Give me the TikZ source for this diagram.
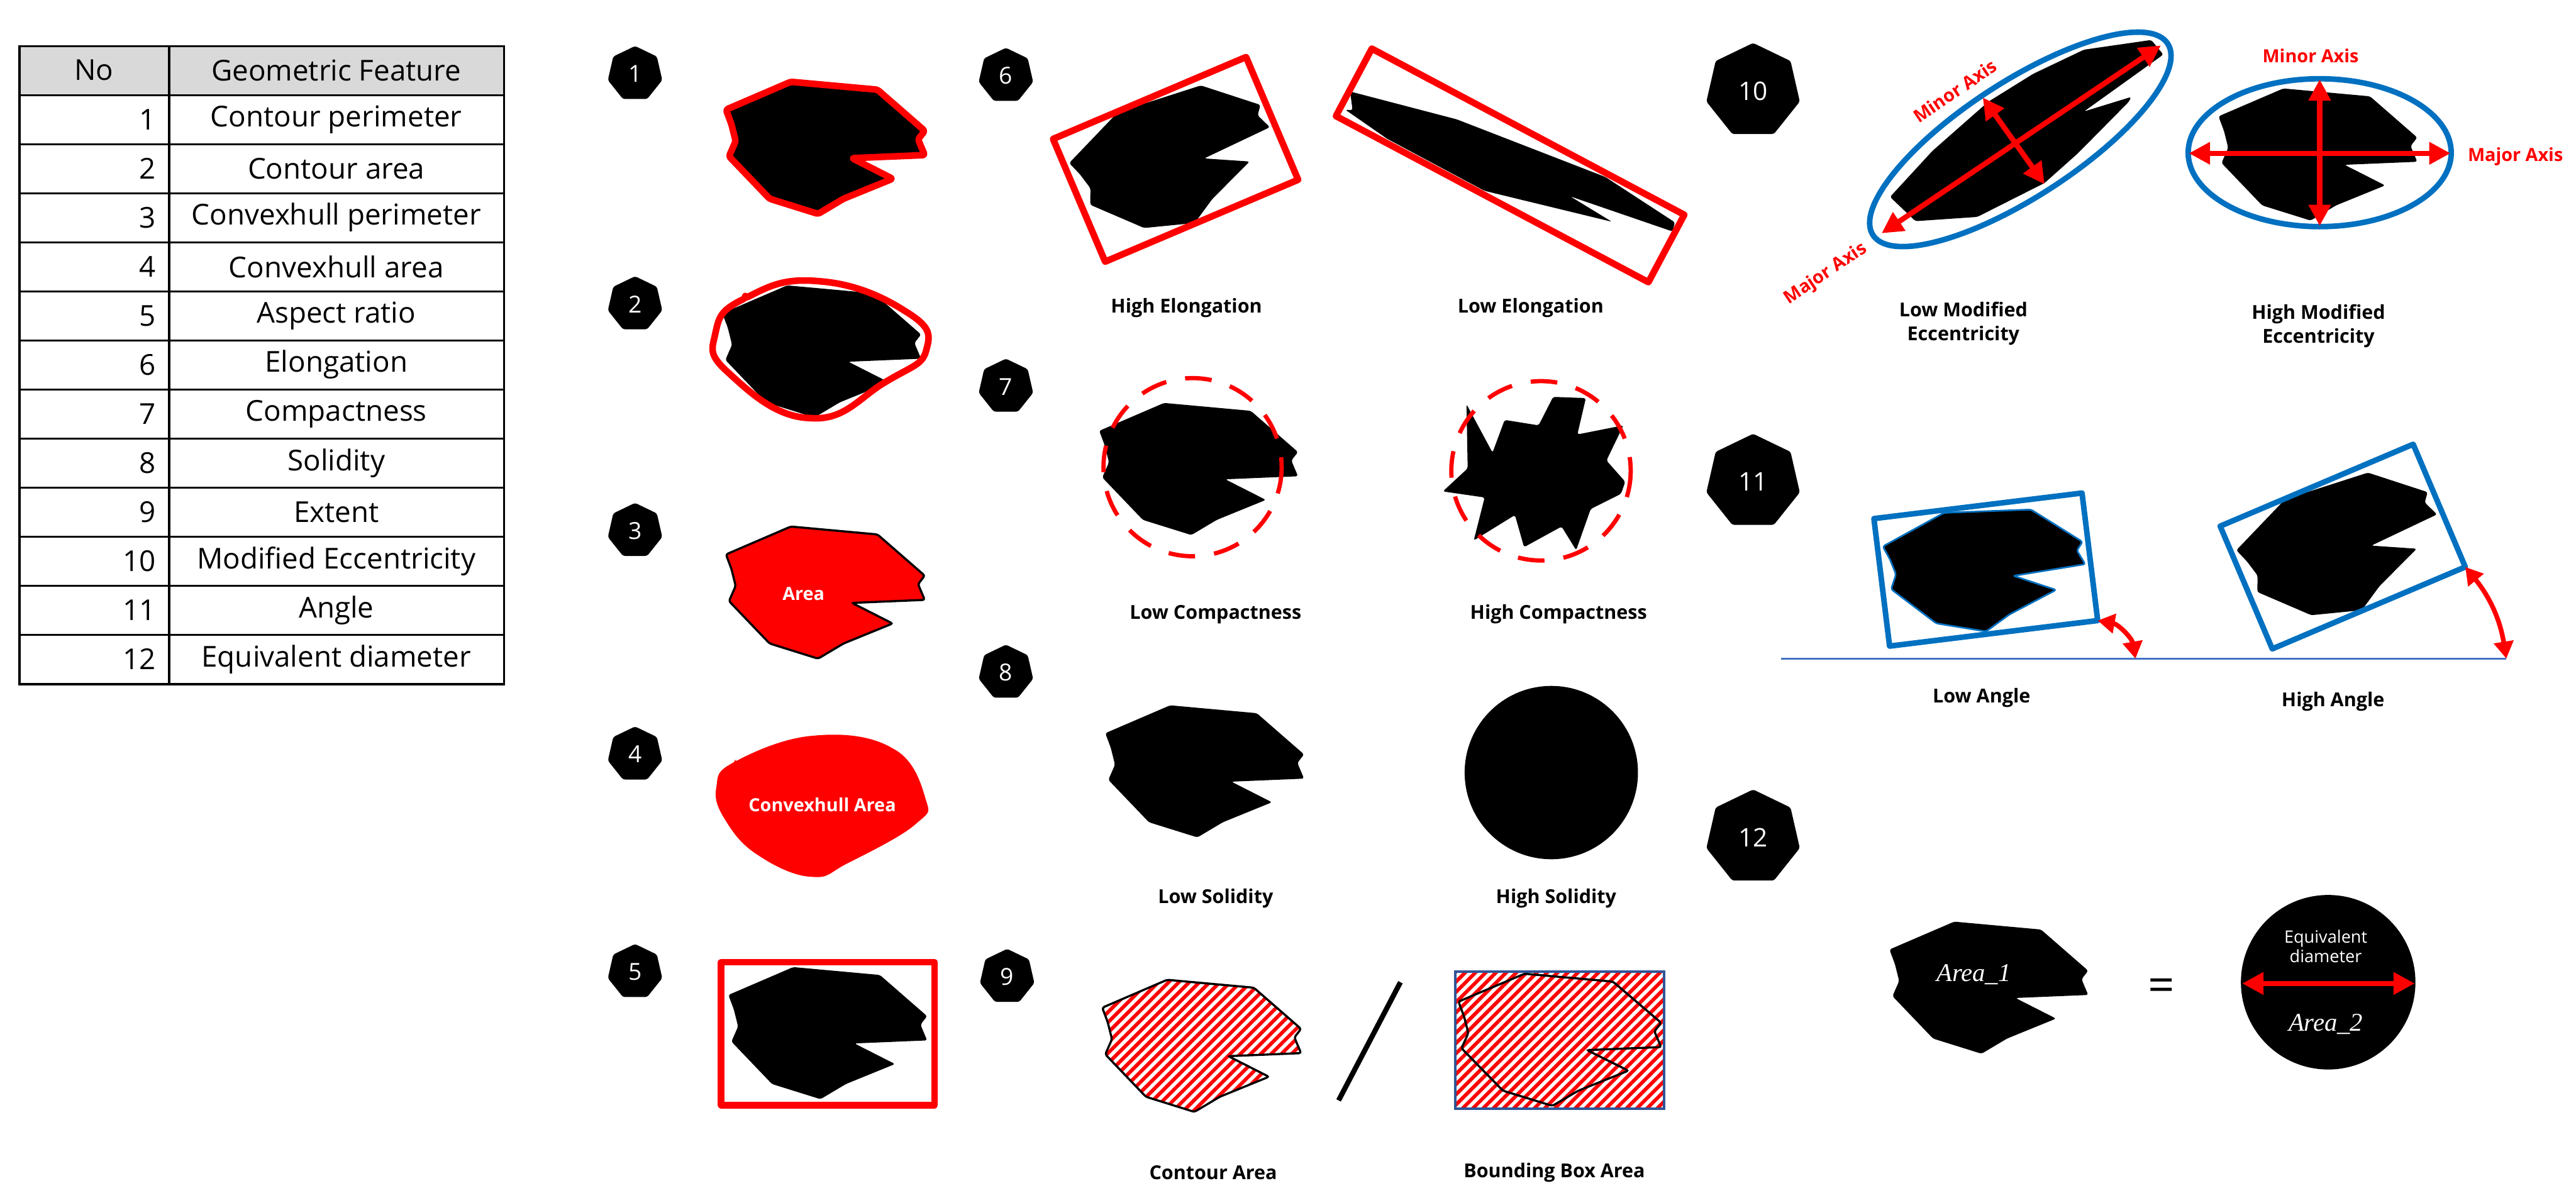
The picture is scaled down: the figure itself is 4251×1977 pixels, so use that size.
\documentclass[tikz,border=0pt]{standalone}
\usepackage{fontspec}
\setmainfont{Open Sans}
\newfontfamily\serifit{Liberation Serif}
\usetikzlibrary{arrows.meta,shapes.geometric,patterns.meta}
\definecolor{featRed}{RGB}{255, 0, 0}
\definecolor{boxBlue}{RGB}{0, 112, 192}
\definecolor{lineBlue}{RGB}{68, 114, 196}
\definecolor{frameBlue}{RGB}{47, 85, 151}
\definecolor{headGray}{RGB}{217, 217, 217}

% contour of the sample particle, centred on the origin (pixel units)
\newcommand{\blobpath}{(-164,-63) -- (-57,-109) -- (86,-96) -- (164,-28) -- (153,-14) -- (164,12) -- (44,17) -- (111,51) -- (30,84) -- (-12,109) -- (-92,84) -- (-159,14) -- (-148,-11) -- (-155,-39) -- cycle}

\tikzset{
  badge/.style={regular polygon, regular polygon sides=7, fill=black, text=white, inner sep=0pt, minimum size=0.92cm, font=\fontsize{11}{12}\selectfont},
  bigbadge/.style={badge, minimum size=1.58cm, font=\fontsize{12}{13}\selectfont},
  lbl/.style={font=\fontsize{9}{11}\selectfont\bfseries, align=center},
  axislbl/.style={text=featRed, font=\fontsize{8.5}{10}\selectfont\bfseries},
  cell/.style={font=\fontsize{13.5}{15}\selectfont, inner sep=0pt},
  redline/.style={draw=featRed, line width=3.1pt, line join=round},
  blueline/.style={draw=boxBlue, line width=2.6pt, line join=round},
  dashring/.style={draw=featRed, line width=2pt, dash pattern=on 12.5pt off 9pt},
  axisarrow/.style={featRed, line width=2.5pt, {Triangle[length=10pt,width=10pt]}-{Triangle[length=10pt,width=10pt]}},
  anglearrow/.style={featRed, line width=2.2pt, {Triangle[length=8pt,width=9pt]}-{Triangle[length=8pt,width=9pt]}},
  hatch/.style={pattern={Lines[angle=45,distance=3.4pt,line width=1.7pt]}, pattern color=featRed},
}

\begin{document}
\begin{tikzpicture}[x=0.01cm, y=-0.01cm, rounded corners=1pt]
\useasboundingbox (0,0) rectangle (4251,1977);

% feature table
\fill[headGray] (32,76) rectangle (832,157);
\draw[line width=1pt, sharp corners] (32,76) rectangle (832,1129);
\draw[line width=1pt] (279,76) -- (279,1129);
\foreach \r in {1,...,12}
  \draw[line width=1pt] (32,{76+81*\r}) -- (832,{76+81*\r});
\node[cell] (hNo) at (155,116) {No};
\node[cell] (hFeat) at (555,116) {Geometric Feature};
\foreach \feat [count=\i] in {Contour perimeter, Contour area, Convexhull perimeter, Convexhull area, Aspect ratio, Elongation, Compactness, Solidity, Extent, Modified Eccentricity, Angle, Equivalent diameter}
{
  \node[cell, anchor=east] (no\i) at (258,{116+81*\i}) {\i};
  \node[cell] (feat\i) at (555,{116+81*\i}) {\feat};
}

% numbered badges
\node[badge] (b1) at (1048,122) {1};
\node[badge] (b2) at (1048,502) {2};
\node[badge] (b3) at (1048,876) {3};
\node[badge] (b4) at (1048,1245) {4};
\node[badge] (b5) at (1048,1604) {5};
\node[badge] (b6) at (1660,125) {6};
\node[badge] (b7) at (1660,638) {7};
\node[badge] (b8) at (1660,1110) {8};
\node[badge] (b9) at (1662,1612) {9};
\node[bigbadge] (b10) at (2893,150) {10};
\node[bigbadge] (b11) at (2893,795) {11};
\node[bigbadge] (b12) at (2893,1382) {12};

% 1 contour perimeter
\filldraw[fill=black, redline, shift={(1362,244)}] \blobpath;

% 2 contour area
\fill[shift={(1356,580)}] \blobpath;
\draw[redline, shift={(1356,580)}] plot[smooth cycle, tension=0.8] coordinates {(-175,-32) (-126,-88) (-6,-116) (137,-67) (173,-4) (106,50) (-19,110) (-153,36)};

% 3 convexhull perimeter
\filldraw[fill=featRed, draw=black, line width=1pt, shift={(1362,978)}] \blobpath;
\node[text=white, font=\fontsize{8.5}{10}\selectfont\bfseries] (areaTxt) at (1326,980) {Area};

% 4 convexhull area
\fill[featRed] plot[smooth cycle, tension=0.7] coordinates {(1182,1300) (1213,1257) (1344,1214) (1473,1235) (1527,1317) (1511,1360) (1402,1423) (1339,1447) (1252,1412) (1198,1355)};
\node[text=white, font=\fontsize{8.5}{10}\selectfont\bfseries] (hullTxt) at (1357,1328) {Convexhull Area};

% 5 aspect ratio
\draw[redline, sharp corners] (1190,1588) rectangle (1542,1824);
\fill[shift={(1366,1705)}] \blobpath;

% 6 elongation
\begin{scope}[shift={(1940,263)}, rotate=23]
  \fill \blobpath;
  \draw[redline, sharp corners] (-173,-110) rectangle (173,110);
\end{scope}
\fill (2228,151) -- (2404,197) -- (2649,292) -- (2764,367) -- (2760,382) -- (2591,324) -- (2660,366) -- (2450,315) -- (2289,229) -- (2220,181) -- (2232,182) -- cycle;
\draw[redline, sharp corners, shift={(2492,273)}, rotate=-28] (-292,-63) rectangle (292,63);
\node[lbl] (lblHighElong) at (1958,508) {High Elongation};
\node[lbl] (lblLowElong) at (2526,508) {Low Elongation};

% 7 compactness
\fill[shift={(1978,774)}] \blobpath;
\draw[dashring] (1968,771) circle[radius=147];
\fill (2420,667) -- (2463,747) -- (2483,693) -- (2539,702) -- (2563,655) -- (2617,657) -- (2603,717) -- (2679,702) -- (2651,760) -- (2682,795) -- (2675,815) -- (2625,840) -- (2601,908) -- (2577,869) -- (2515,903) -- (2500,850) -- (2432,892) -- (2450,821) -- (2381,811) -- (2422,773) -- cycle;
\draw[dashring] (2543,777) circle[radius=148];
\node[lbl] (lblLowComp) at (2006,1014) {Low Compactness};
\node[lbl] (lblHighComp) at (2572,1014) {High Compactness};

% 8 solidity
\fill[shift={(1988,1273)}] \blobpath;
\fill (2560,1275) circle[radius=143];
\node[lbl] (lblLowSol) at (2006,1483) {Low Solidity};
\node[lbl] (lblHighSol) at (2568,1483) {High Solidity};

% 9 extent
\draw[hatch, draw=black, line width=1pt, shift={(1983,1726)}] \blobpath;
\coordinate (slashTop) at (2311,1621);
\coordinate (slashBot) at (2209,1816);
\draw[line width=2.4pt, sharp corners] (slashTop) -- (slashBot);
\path[hatch, sharp corners] (2402,1603) rectangle (2746,1830);
\draw[frameBlue, line width=1.2pt, sharp corners] (2402,1603) rectangle (2746,1830);
\draw[line width=1pt, shift={(2574,1716)}, xscale=1.02] \blobpath;
\node[lbl] (lblContour) at (2002,1935) {Contour Area};
\node[lbl] (lblBBox) at (2565,1935) {Bounding Box Area};

% 10 modified eccentricity
\fill (3550,66) -- (3570,90) -- (3439,184) -- (3517,160) -- (3513,168) -- (3429,253) -- (3374,302) -- (3263,358) -- (3161,365) -- (3119,325) -- (3189,249) -- (3281,168) -- (3355,122) -- (3439,82) -- cycle;
\draw[blueline, shift={(3334,230)}, rotate=33] (0,0) ellipse[x radius=290, y radius=95];
\coordinate (majA) at (3105,385);
\coordinate (majB) at (3566,75);
\coordinate (minA) at (3272,161);
\coordinate (minB) at (3374,304);
\draw[axisarrow] (majA) -- (majB);
\draw[axisarrow] (minA) -- (minB);
\node[axislbl, rotate=34] (lblMinorA) at (3226,150) {Minor Axis};
\node[axislbl, rotate=34] (lblMajorA) at (3013,452) {Major Axis};

\fill[shift={(3825,255)}] \blobpath;
\draw[blueline] (3828,252) ellipse[x radius=217, y radius=122];
\coordinate (hA) at (3612,253);
\coordinate (hB) at (4044,253);
\coordinate (vA) at (3828,131);
\coordinate (vB) at (3828,373);
\draw[axisarrow] (hA) -- (hB);
\draw[axisarrow] (vA) -- (vB);
\node[axislbl] (lblMinorB) at (3813,92) {Minor Axis};
\node[axislbl] (lblMajorB) at (4151,258) {Major Axis};
\node[lbl] (lblLowEcc) at (3240,534) {Low Modified\\Eccentricity};
\node[lbl] (lblHighEcc) at (3826,538) {High Modified\\Eccentricity};

% 11 angle
\coordinate (baseL) at (2939,1087);
\coordinate (baseR) at (4136,1087);
\draw[lineBlue, line width=1pt] (baseL) -- (baseR);
\begin{scope}[shift={(3277,940)}, rotate=7]
  \filldraw[fill=black, draw=boxBlue, line width=0.8pt, yscale=0.93] \blobpath;
  \draw[blueline, sharp corners] (-173,-106) rectangle (173,106);
  \coordinate (laCorner) at (173,106);
\end{scope}
\begin{scope}[shift={(3866,902)}, rotate=23]
  \fill \blobpath;
  \draw[blueline, sharp corners] (-173,-110) rectangle (173,110);
  \coordinate (haCorner) at (173,110);
\end{scope}
\coordinate (laBase) at (3524,1087);
\draw[anglearrow] (laCorner) to[bend left=35] (laBase);
\draw[anglearrow] (haCorner) to[bend left=15] (baseR);
\node[lbl] (lblLowAng) at (3270,1152) {Low Angle};
\node[lbl] (lblHighAng) at (3850,1158) {High Angle};

% 12 equivalent diameter
\fill[shift={(3282,1630)}] \blobpath;
\node[text=white, font=\fontsize{12}{14}\selectfont\serifit\itshape] (area1) at (3257,1608) {Area\_1};
\node[font=\fontsize{22}{24}\selectfont] (eqSign) at (3567,1634) {=};
\fill (3842,1621) circle[radius=144];
\node[text=white, align=center, font=\fontsize{8}{9}\selectfont] (eqDiam) at (3838,1562) {Equivalent\\diameter};
\coordinate (eqA) at (3700,1623);
\coordinate (eqB) at (3985,1623);
\draw[axisarrow] (eqA) -- (eqB);
\node[text=white, font=\fontsize{12}{14}\selectfont\serifit\itshape] (area2) at (3838,1690) {Area\_2};
\end{tikzpicture}
\end{document}
